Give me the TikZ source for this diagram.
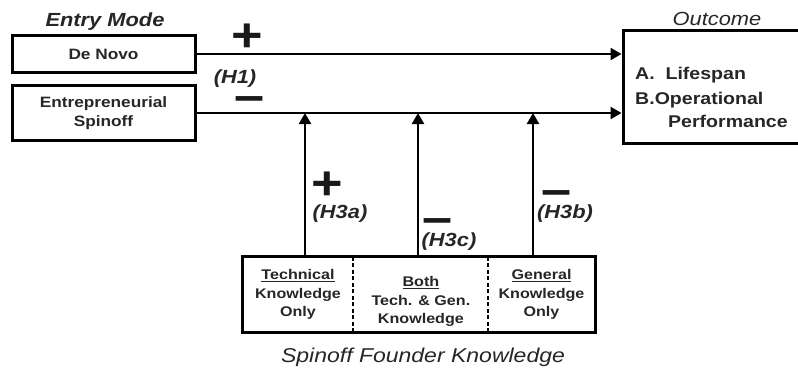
\documentclass[tikz,border=0pt]{standalone}
\usepackage{fontspec}
\setmainfont{Liberation Sans}[FakeStretch=1.15]
\usepackage{tikz}
\usetikzlibrary{arrows.meta,positioning,calc}

\begin{document}
\begin{tikzpicture}[x=1pt, y=-1pt,
  box/.style={rectangle, draw, line width=3pt, align=center, inner sep=0pt, text=black!85, font=\fontsize{15}{18.5}\selectfont\bfseries},
  cell/.style={rectangle, align=center, inner sep=0pt, minimum height=75pt, text=black!85, font=\fontsize{14}{18.5}\selectfont\bfseries},
  divider/.style={line width=1.5pt, dash pattern=on 4pt off 2.5pt},
  head/.style={anchor=base, inner sep=0pt, text=black!85},
  hyp/.style={anchor=base, inner sep=0pt, text=black!85, font=\fontsize{19}{21}\selectfont\bfseries\itshape},
  sign/.style={anchor=base, inner sep=0pt, text=black!90, font=\fontsize{47}{47}\selectfont\bfseries},
  arrow/.style={line width=2.4pt, -{Triangle[length=11pt, width=12pt]}}]

\useasboundingbox (0,0) rectangle (798,368);

% entry mode
\node[head, font=\fontsize{19}{21}\selectfont\bfseries\itshape] (entry) at (105,26) {Entry Mode};
\node[box, minimum width=183pt, minimum height=37pt] (denovo) at (103.5,54) {De Novo};
\node[box, minimum width=183pt, minimum height=55pt] (spinoff) at (103.5,113) {Entrepreneurial\\Spinoff};

% outcome
\node[head, font=\fontsize{19}{21}\selectfont\itshape] (outhead) at (717,25) {Outcome};
\node[box, minimum width=182pt, minimum height=113pt] (outcome) at (714,86.5) {};
\node[anchor=west, inner sep=0pt, align=left, text=black!85, font=\fontsize{17}{23}\selectfont\bfseries] (outlist) at (635,97)
  {A.~~Lifespan\\[2pt]B.Operational\\\hspace*{33pt}Performance};

% spinoff founder knowledge
\node[cell, minimum width=110pt] (tech) at (298,294.5) {\underline{Technical}\\Knowledge\\Only};
\node[cell, minimum width=135pt, right=0pt of tech, yshift=-7pt] (both) {\underline{Both}\\Tech. \& Gen.\\Knowledge};
\node[cell, minimum width=107pt] (gen) at (541.5,294.5) {\underline{General}\\Knowledge\\Only};
\draw[line width=3pt] (tech.north west) rectangle (gen.south east);
\draw[divider] (tech.north east) -- (tech.south east);
\draw[divider] (gen.north west) -- (gen.south west);
\node[head, font=\fontsize{20}{22}\selectfont\itshape] (founder) at (423,362.5) {Spinoff Founder Knowledge};

\coordinate (h3a) at (305,257);
\coordinate (h3c) at (418,257);
\coordinate (h3b) at (533,257);

% arrows
\draw[arrow] (denovo.east) -- (denovo.east -| outcome.west);
\draw[arrow] (spinoff.east) -- (spinoff.east -| outcome.west);
\draw[arrow] (h3a) -- (h3a |- spinoff.east);
\draw[arrow] (h3c) -- (h3c |- spinoff.east);
\draw[arrow] (h3b) -- (h3b |- spinoff.east);

% signs and hypotheses
\node[sign] (plus1) at (247,51.5) {+};
\node[hyp] (lab1) at (235,83.3) {(H1)};
\node[sign] (minus1) at (250,111.7) {–};
\node[sign] (plus3a) at (327,199.5) {+};
\node[hyp] (lab3a) at (340,218) {(H3a)};
\node[sign] (minus3c) at (438,233) {–};
\node[hyp] (lab3c) at (449,246.7) {(H3c)};
\node[sign] (minus3b) at (557,205) {–};
\node[hyp] (lab3b) at (565,218.3) {(H3b)};

\end{tikzpicture}
\end{document}
